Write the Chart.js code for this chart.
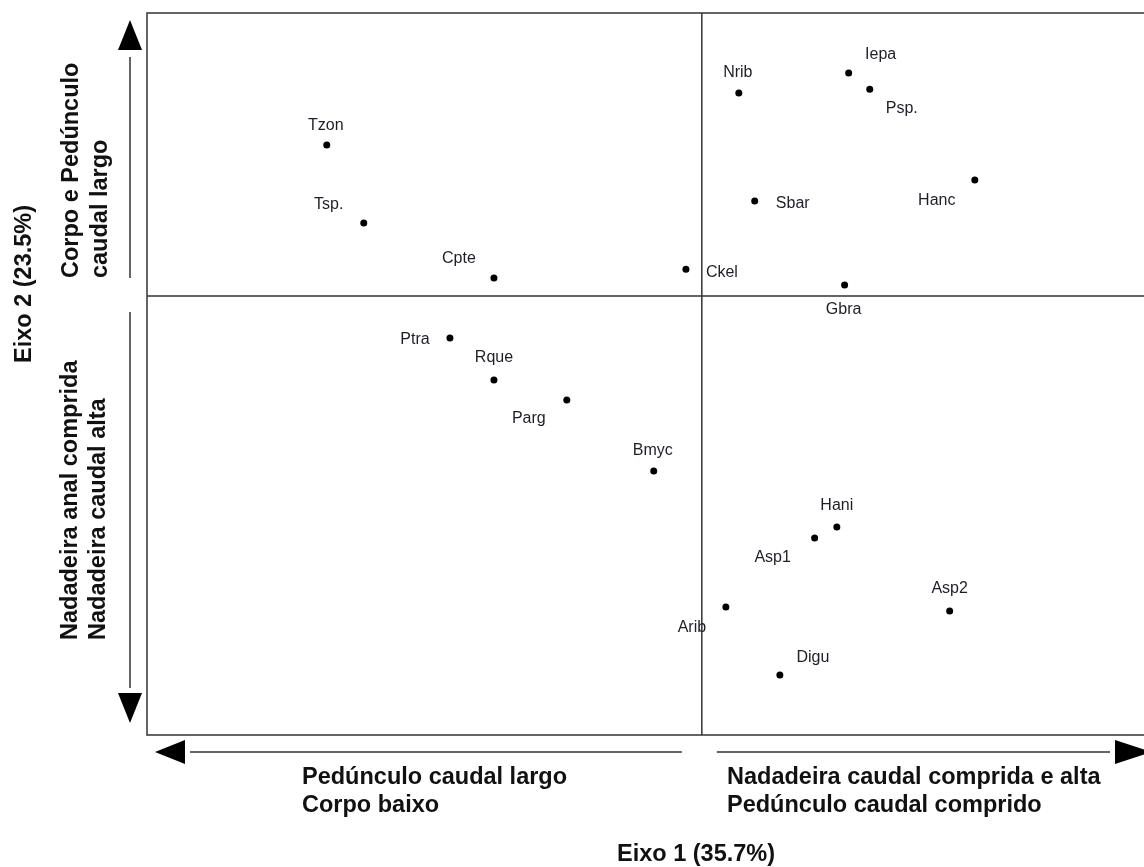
<!DOCTYPE html>
<html>
<head>
<meta charset="utf-8">
<script src="https://cdn.jsdelivr.net/npm/chart.js@4"></script>
<style>
  html, body { margin: 0; padding: 0; background: #fff; overflow: hidden; }
  #wrap { width: 1144px; height: 867px; position: relative; }
</style>
</head>
<body>
<div id="wrap"><canvas id="c" width="1144" height="867"></canvas></div>
<script>
// ---- Data (PCA scores) ----
const species = ["Tzon","Tsp.","Cpte","Ckel","Nrib","Iepa","Psp.","Sbar","Hanc","Gbra",
                 "Ptra","Rque","Parg","Bmyc","Hani","Asp1","Arib","Asp2","Digu"];
const axis1 = [-1.014,-0.914,-0.562,-0.043, 0.100, 0.397, 0.454, 0.143, 0.738, 0.386,
               -0.681,-0.562,-0.365,-0.130, 0.365, 0.305, 0.065, 0.670, 0.211];
const axis2 = [ 0.534, 0.258, 0.064, 0.095, 0.717, 0.788, 0.731, 0.336, 0.410, 0.039,
               -0.148,-0.297,-0.367,-0.618,-0.816,-0.855,-1.099,-1.113,-1.339];
const axis1Title = "Eixo 1 (35.7%)";
const axis2Title = "Eixo 2 (23.5%)";
const leftNote = ["Pedúnculo caudal largo", "Corpo baixo"];
const rightNote = ["Nadadeira caudal comprida e alta", "Pedúnculo caudal comprido"];
const topNote = ["Corpo e Pedúnculo", "caudal largo"];
const bottomNote = ["Nadadeira anal comprida", "Nadadeira caudal alta"];

// ---- Label placement offsets (pixels, style only) ----
const labelOffsets = [[-1,-19],[-35,-18],[-35,-19],[36,3],[-1,-21],[32,-18],[32,19],[38,3],[-38,21],[-1,25],
                      [-35,2],[0,-22],[-38,19],[-1,-20],[0,-21],[-42,20],[-34,21],[0,-22],[33,-17]];

const points = species.map((s, i) => ({ x: axis1[i], y: axis2[i] }));

const BOLD = 'bold 23.5px "Liberation Sans", Arial, sans-serif';
const LBL = '16px "Liberation Sans", Arial, sans-serif';

function tri(ctx, pts) {
  ctx.beginPath();
  ctx.moveTo(pts[0][0], pts[0][1]);
  ctx.lineTo(pts[1][0], pts[1][1]);
  ctx.lineTo(pts[2][0], pts[2][1]);
  ctx.closePath();
  ctx.fill();
}

const decor = {
  id: 'decor',
  beforeDatasetsDraw(chart) {
    const { ctx, chartArea: a, scales } = chart;
    const W = chart.width;
    const x0 = scales.x.getPixelForValue(0);
    const y0 = scales.y.getPixelForValue(0);
    ctx.save();
    ctx.strokeStyle = '#333';
    ctx.lineWidth = 1.5;
    // frame (left, top, bottom; right edge is beyond the picture)
    ctx.beginPath();
    ctx.moveTo(W + 2, a.top); ctx.lineTo(a.left, a.top);
    ctx.lineTo(a.left, a.bottom); ctx.lineTo(W + 2, a.bottom);
    ctx.stroke();
    // cross lines at origin
    ctx.beginPath();
    ctx.moveTo(x0, a.top); ctx.lineTo(x0, a.bottom);
    ctx.moveTo(a.left, y0); ctx.lineTo(W + 2, y0);
    ctx.stroke();
    ctx.restore();
  },
  afterDatasetsDraw(chart) {
    const { ctx, chartArea: a, scales } = chart;
    const W = chart.width;
    const x0 = scales.x.getPixelForValue(0);
    const y0 = scales.y.getPixelForValue(0);
    ctx.save();
    // point labels
    ctx.font = LBL;
    ctx.fillStyle = '#1e1e28';
    ctx.textAlign = 'center';
    ctx.textBaseline = 'middle';
    const meta = chart.getDatasetMeta(0);
    meta.data.forEach((el, i) => {
      ctx.fillText(species[i], el.x + labelOffsets[i][0], el.y + labelOffsets[i][1]);
    });

    // vertical arrow (left)
    const vx = 130;
    ctx.strokeStyle = '#333';
    ctx.fillStyle = '#000';
    ctx.lineWidth = 1.5;
    ctx.beginPath();
    ctx.moveTo(vx, a.top + 44); ctx.lineTo(vx, y0 - 18);
    ctx.moveTo(vx, y0 + 16); ctx.lineTo(vx, a.bottom - 47);
    ctx.stroke();
    tri(ctx, [[vx, a.top + 7], [vx - 12, a.top + 37], [vx + 12, a.top + 37]]);
    tri(ctx, [[vx, a.bottom - 12], [vx - 12, a.bottom - 42], [vx + 12, a.bottom - 42]]);

    // horizontal arrow (bottom)
    const hy = a.bottom + 17;
    ctx.beginPath();
    ctx.moveTo(a.left + 43, hy); ctx.lineTo(x0 - 20, hy);
    ctx.moveTo(x0 + 15, hy); ctx.lineTo(W - 34, hy);
    ctx.stroke();
    tri(ctx, [[a.left + 8, hy], [a.left + 38, hy - 12], [a.left + 38, hy + 12]]);
    tri(ctx, [[W + 8, hy], [W - 29, hy - 12], [W - 29, hy + 12]]);

    // texts
    ctx.fillStyle = '#111';
    ctx.font = BOLD;
    ctx.textBaseline = 'middle';
    ctx.textAlign = 'left';
    ctx.fillText(leftNote[0], 302, a.bottom + 43);
    ctx.fillText(leftNote[1], 302, a.bottom + 71);
    ctx.fillText(rightNote[0], 727, a.bottom + 43);
    ctx.fillText(rightNote[1], 727, a.bottom + 71);
    ctx.textAlign = 'center';
    ctx.fillText(axis1Title, 696, a.bottom + 120);

    // rotated texts
    function vtext(t, x, y, align) {
      ctx.save();
      ctx.translate(x, y);
      ctx.rotate(-Math.PI / 2);
      ctx.textAlign = align;
      ctx.fillText(t, 0, 0);
      ctx.restore();
    }
    vtext(axis2Title, 25, 284, 'center');
    vtext(topNote[0], 72, y0 - 18, 'left');
    vtext(topNote[1], 101, y0 - 18, 'left');
    vtext(bottomNote[0], 71, a.bottom - 95, 'left');
    vtext(bottomNote[1], 99, a.bottom - 95, 'left');
    ctx.restore();
  }
};

new Chart(document.getElementById('c'), {
  type: 'scatter',
  data: {
    datasets: [{
      data: points,
      pointRadius: 3.5,
      pointHoverRadius: 3.5,
      pointBackgroundColor: '#000',
      pointBorderColor: '#000',
      pointBorderWidth: 0
    }]
  },
  options: {
    responsive: false,
    animation: false,
    events: [],
    layout: { padding: { left: 147, top: 13, right: 0, bottom: 132 } },
    plugins: { legend: { display: false }, tooltip: { enabled: false } },
    scales: {
      x: { type: 'linear', min: -1.5, max: 1.186, display: false },
      y: { type: 'linear', min: -1.551, max: 1.0, display: false }
    }
  },
  plugins: [decor]
});
</script>
</body>
</html>
